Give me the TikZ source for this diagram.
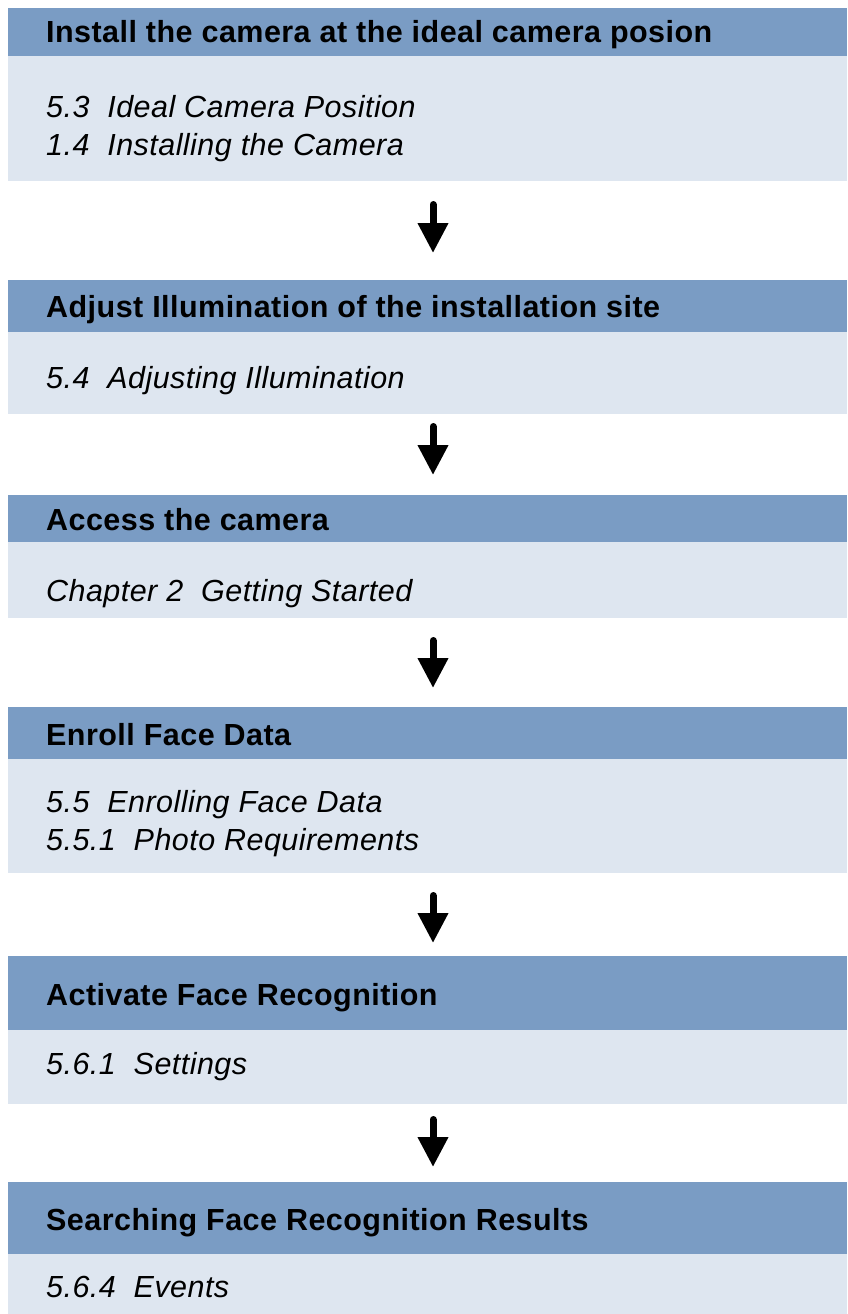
\documentclass[tikz,border=0pt]{standalone}
\usepackage{fontspec}
\setmainfont[LetterSpace=1.5]{Liberation Sans}
\usetikzlibrary{arrows.meta}
\definecolor{headblue}{RGB}{122,156,196}
\definecolor{bodyblue}{RGB}{222,230,240}
\begin{document}
\begin{tikzpicture}[x=1pt,y=-1pt,
  panel/.style={draw=none, anchor=north west, minimum width=839pt, inner sep=0pt, outer sep=0pt},
  head/.style={panel, fill=headblue},
  body/.style={panel, fill=bodyblue},
  htext/.style={anchor=base west, inner sep=0pt, font=\fontsize{30.5}{36}\selectfont\bfseries},
  btext/.style={anchor=base west, inner sep=0pt, font=\fontsize{30.5}{38}\selectfont\itshape},
  flow/.style={-{Triangle[width=29pt,length=30pt]}, line width=7pt, line cap=round, draw=black}
]
\useasboundingbox (0,0) rectangle (847,1314);

% block 1
\node[head, minimum height=48pt] (h1) at (8,8) {};
\node[body, minimum height=125pt] (b1) at (8,56) {};
\node[htext] (h1t) at (46,43) {Install the camera at the ideal camera posion};
\node[btext] (b1t1) at (46,117) {5.3\ \ Ideal Camera Position};
\node[btext] (b1t2) at (46,155) {1.4\ \ Installing the Camera};

% block 2
\node[head, minimum height=52pt] (h2) at (8,280) {};
\node[body, minimum height=82pt] (b2) at (8,332) {};
\node[htext] (h2t) at (46,317) {Adjust Illumination of the installation site};
\node[btext] (b2t1) at (46,388) {5.4\ \ Adjusting Illumination};

% block 3
\node[head, minimum height=47pt] (h3) at (8,495) {};
\node[body, minimum height=76pt] (b3) at (8,542) {};
\node[htext] (h3t) at (46,530) {Access the camera};
\node[btext] (b3t1) at (46,601) {Chapter 2\ \ Getting Started};

% block 4
\node[head, minimum height=52pt] (h4) at (8,707) {};
\node[body, minimum height=114pt] (b4) at (8,759) {};
\node[htext] (h4t) at (46,745) {Enroll Face Data};
\node[btext] (b4t1) at (46,812) {5.5\ \ Enrolling Face Data};
\node[btext] (b4t2) at (46,850) {5.5.1\ \ Photo Requirements};

% block 5
\node[head, minimum height=74pt] (h5) at (8,956) {};
\node[body, minimum height=74pt] (b5) at (8,1030) {};
\node[htext] (h5t) at (46,1005) {Activate Face Recognition};
\node[btext] (b5t1) at (46,1074) {5.6.1\ \ Settings};

% block 6
\node[head, minimum height=72pt] (h6) at (8,1182) {};
\node[body, minimum height=60pt] (b6) at (8,1254) {};
\node[htext] (h6t) at (46,1230) {Searching Face Recognition Results};
\node[btext] (b6t1) at (46,1297) {5.6.4\ \ Events};

% arrows
\draw[flow, shorten <=23.5pt, shorten >=27pt] ([xshift=5.5pt]b1.south) -- ([xshift=5.5pt]h2.north);
\draw[flow, shorten <=12.5pt, shorten >=20pt] ([xshift=5.5pt]b2.south) -- ([xshift=5.5pt]h3.north);
\draw[flow, shorten <=22.5pt, shorten >=19pt] ([xshift=5.5pt]b3.south) -- ([xshift=5.5pt]h4.north);
\draw[flow, shorten <=22.5pt, shorten >=13pt] ([xshift=5.5pt]b4.south) -- ([xshift=5.5pt]h5.north);
\draw[flow, shorten <=15.5pt, shorten >=15pt] ([xshift=5.5pt]b5.south) -- ([xshift=5.5pt]h6.north);
\end{tikzpicture}
\end{document}
